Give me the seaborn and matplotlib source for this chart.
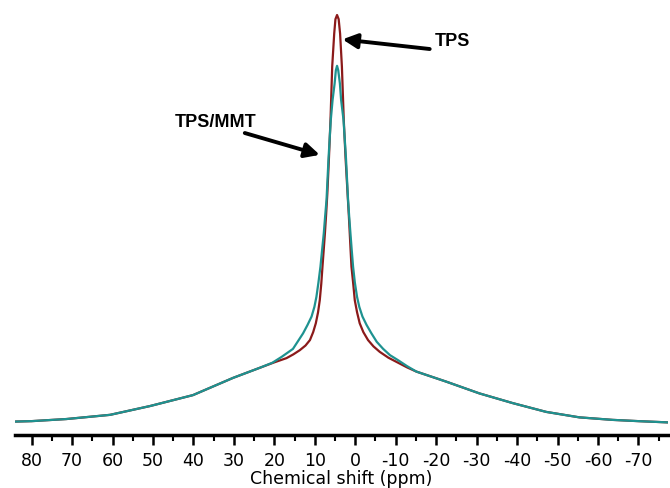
import matplotlib
matplotlib.use("Agg")
import matplotlib.pyplot as plt
from matplotlib.ticker import MultipleLocator
import seaborn as sns
import pandas as pd

# Chemical shift (ppm) and normalised intensity
tps_ppm = [84.0, 80.0, 71.4, 60.6, 50.7, 40.1, 30.2, 23.6, 20.0, 17.0, 15.3, 13.7,
           12.3, 11.2, 10.4, 9.75, 9.2, 8.77, 8.4, 8.1, 7.8, 7.5, 7.2, 6.9, 6.5,
           6.12, 5.7, 5.2, 4.9, 4.5, 4.1, 3.75, 3.3, 2.84, 2.4, 1.9, 1.6, 1.36,
           1.15, 0.94, 0.5, 0.12, -0.45, -1.1, -2.0, -3.16, -4.5, -6.05, -8.2,
           -10.6, -12.8, -15.1, -22.5, -30.7, -38.9, -47.2, -55.4, -63.6, -70.0, -77.3]
tps_int = [0.032, 0.033, 0.038, 0.048, 0.069, 0.095, 0.136, 0.160, 0.173, 0.183, 0.192, 0.202,
           0.213, 0.226, 0.245, 0.266, 0.292, 0.321, 0.360, 0.401, 0.440, 0.480, 0.525, 0.575, 0.660,
           0.750, 0.877, 0.956, 0.990, 1.000, 0.990, 0.956, 0.877, 0.750, 0.660, 0.575, 0.525, 0.480,
           0.440, 0.401, 0.360, 0.321, 0.292, 0.266, 0.245, 0.226, 0.211, 0.198, 0.184,
           0.172, 0.161, 0.151, 0.127, 0.099, 0.076, 0.055, 0.042, 0.036, 0.033, 0.030]

mmt_ppm = [84.0, 80.0, 71.4, 60.6, 50.7, 40.1, 30.2, 23.6, 20.5, 18.2, 15.4, 12.9,
           11.8, 10.8, 10.1, 9.6, 9.1, 8.6, 8.2, 7.78, 7.45, 7.1, 6.6, 6.05, 5.6,
           5.1, 4.8, 4.5, 4.2, 3.8, 3.5, 2.9, 2.3, 1.78, 1.5, 1.19, 0.87, 0.54,
           0.1, -0.44, -1.0, -1.78, -2.8, -4.0, -5.3, -6.9, -8.6, -10.6, -12.8,
           -15.1, -22.5, -30.7, -38.9, -47.2, -55.4, -63.6, -70.0, -77.3]
mmt_int = [0.032, 0.033, 0.038, 0.048, 0.069, 0.095, 0.136, 0.160, 0.172, 0.186, 0.205, 0.242,
           0.262, 0.282, 0.305, 0.329, 0.363, 0.401, 0.440, 0.480, 0.520, 0.560, 0.660, 0.750, 0.798,
           0.837, 0.868, 0.879, 0.868, 0.837, 0.798, 0.750, 0.660, 0.560, 0.520, 0.480, 0.440, 0.401,
           0.363, 0.329, 0.305, 0.282, 0.262, 0.242, 0.222, 0.205, 0.190, 0.178, 0.164,
           0.151, 0.127, 0.099, 0.076, 0.055, 0.042, 0.036, 0.033, 0.030]

tick_values = [80, 70, 60, 50, 40, 30, 20, 10, 0, -10, -20, -30, -40, -50, -60, -70]

sns.set_style("white")
plt.rcParams['font.family'] = ['DejaVu Sans']
plt.rcParams['axes.unicode_minus'] = False
plt.rcParams['text.color'] = 'black'
plt.rcParams['axes.labelcolor'] = 'black'

fig = plt.figure(figsize=(6.7, 4.88), dpi=100)
ax = fig.add_axes([15/670, (488-435)/488, (668-15)/670, 435/488])

df_tps = pd.DataFrame({"ppm": tps_ppm, "intensity": tps_int})
df_mmt = pd.DataFrame({"ppm": mmt_ppm, "intensity": mmt_int})
sns.lineplot(data=df_tps, x="ppm", y="intensity", ax=ax, color="#8b1a1a",
             lw=1.6, sort=False, estimator=None)
sns.lineplot(data=df_mmt, x="ppm", y="intensity", ax=ax, color="#1e9290",
             lw=1.6, sort=False, estimator=None)

ax.set_xlim(84.1, -77.3)
ax.set_ylim(0, 435/420)
ax.set_xticks(tick_values)
ax.set_xticklabels([str(v) for v in tick_values])
ax.xaxis.set_minor_locator(MultipleLocator(5))
ax.set_yticks([])
ax.set_ylabel("")
ax.set_xlabel("Chemical shift (ppm)", fontsize=12.5, labelpad=0, color="black")

for s in ["left", "right", "top"]:
    ax.spines[s].set_visible(False)
ax.spines["bottom"].set_linewidth(2.5)
ax.spines["bottom"].set_color("black")
ax.tick_params(axis="x", which="major", direction="out", length=7, width=1.8,
               colors="black", labelsize=12.5, pad=5, bottom=True)
ax.tick_params(axis="x", which="minor", direction="out", length=4, width=1.5,
               colors="black", bottom=True)

arrow = dict(arrowstyle="-|>", lw=2.8, color="black", mutation_scale=22,
             shrinkA=0, shrinkB=0)
ax.annotate("", xy=(3.16, 0.942), xytext=(-18.4, 0.919), arrowprops=arrow)
ax.text(-24.1, 0.938, "TPS", fontsize=13, fontweight="bold", color="black",
        family=["Liberation Sans", "DejaVu Sans"], ha="center", va="center")
ax.annotate("", xy=(8.77, 0.667), xytext=(27.3, 0.719), arrowprops=arrow)
ax.text(34.4, 0.743, "TPS/MMT", fontsize=13, fontweight="bold", color="black",
        family=["Liberation Sans", "DejaVu Sans"], ha="center", va="center")

fig.savefig("out.png", dpi=100)
